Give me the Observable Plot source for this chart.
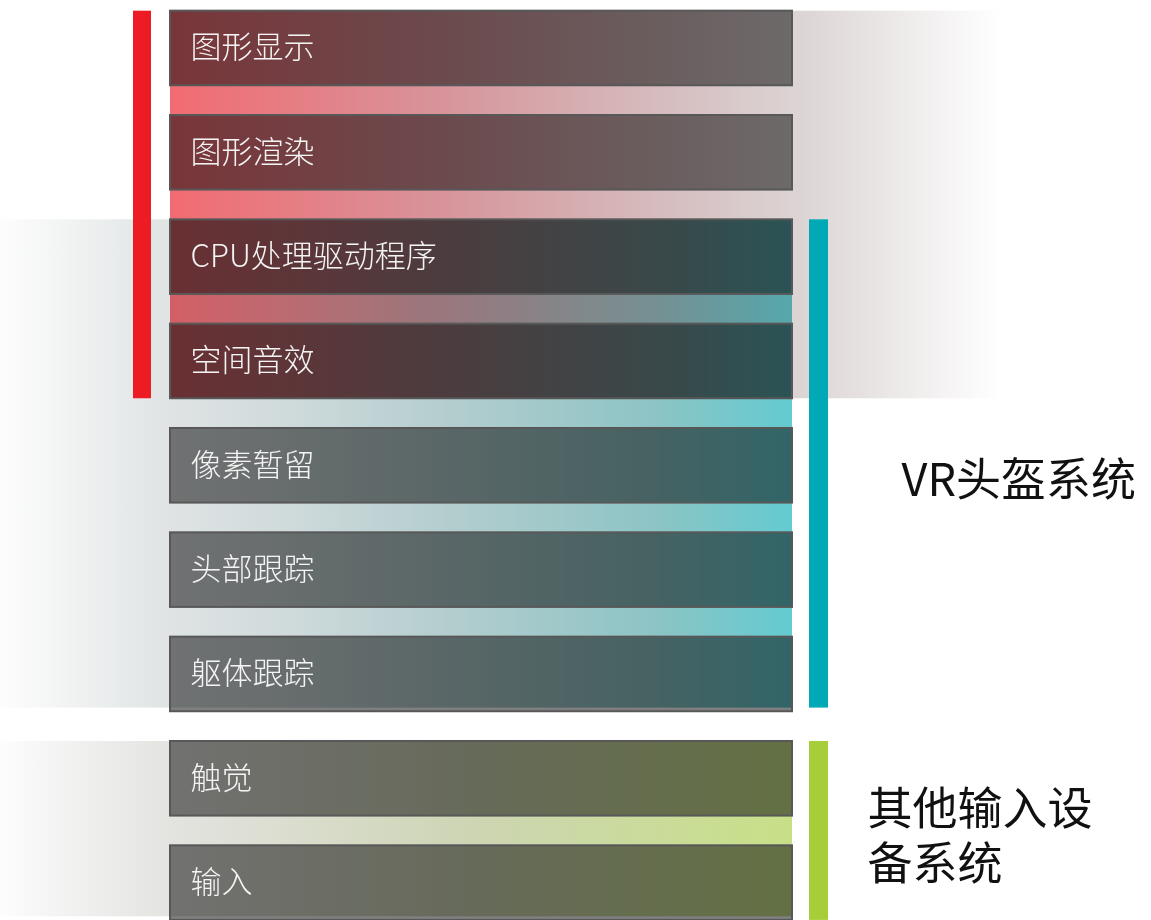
<!DOCTYPE html>
<html>
<head>
<meta charset="utf-8">
<script src="https://cdn.jsdelivr.net/npm/d3@7"></script>
<script src="https://cdn.jsdelivr.net/npm/@observablehq/plot@0.6"></script>
<style>
  html, body { margin: 0; padding: 0; background: #ffffff; }
  #chart svg { display: block; }
</style>
</head>
<body>
<div id="chart"></div>
<script>
// ---------- DATA ----------
const components = ["图形显示", "图形渲染", "CPU处理驱动程序", "空间音效", "像素暂留", "头部跟踪", "躯体跟踪", "触觉", "输入"];
const groupNames = ["图形子系统", "VR头盔系统", "其他输入设备系统"];
const groupFirstRow = [0, 2, 7];
const groupLastRow = [3, 6, 8];
const groupLabels = ["", "VR头盔系统", "其他输入设\n备系统"];

// ---------- STYLE / LAYOUT ----------
const W = 1151, H = 920;
const rowPx = 104.33, topPx = 10.67;
const boxH = 0.715;              // box height in row units
const boxX = [170, 792];
const barX = { left: [133, 151], right: [809, 828] };
const styles = [
  { id: "gRed", bar: "#ed1c24", side: "left", panelX: [170, 1000], blend: true, labelX: 0, labelDy: 0,
    stops: [[0, "#f26b72"], [0.325, "#d7949a"], [0.59, "#d5bcbe"], [0.77, "#ddd6d6"], [1, "#ffffff"]] },
  { id: "gTeal", bar: "#00a9b5", side: "right", panelX: [0, 792], blend: false, labelX: 901, labelDy: 13,
    stops: [[0, "#fdfdfd"], [0.06, "#f5f6f6"], [0.215, "#dfe3e4"], [0.35, "#d1dbdc"], [0.57, "#b3cdce"], [0.83, "#8cc4c5"], [1, "#63cbd0"]] },
  { id: "gGreen", bar: "#a6ce39", side: "right", panelX: [0, 792], blend: false, labelX: 867, labelDy: 4,
    stops: [[0, "#fdfdfd"], [0.06, "#f5f5f5"], [0.215, "#e3e3e0"], [0.6, "#cdd5b3"], [1, "#c7e087"]] }
];

const groups = groupNames.map((name, i) => ({
  name, i, first: groupFirstRow[i], last: groupLastRow[i], label: groupLabels[i], ...styles[i]
}));
const rows = components.map((name, i) => ({ name, row: i }));

// gradient definitions (function mark)
const defsMark = () => {
  const defs = d3.create("svg:defs");
  for (const g of groups) {
    const lg = defs.append("linearGradient").attr("id", g.id)
      .attr("x1", 0).attr("x2", 1).attr("y1", 0).attr("y2", 0);
    for (const [o, c] of g.stops) lg.append("stop").attr("offset", o).attr("stop-color", c);
  }
  return defs.node();
};

const panelMark = (g) => Plot.rect([g], {
  x1: d => d.panelX[0], x2: d => d.panelX[1],
  y1: d => d.first, y2: d => d.last + boxH - (d.blend ? 0 : 0.035),
  fill: `url(#${g.id})`,
  mixBlendMode: g.blend ? "multiply" : "normal"
});

const chart = Plot.plot({
  width: W, height: H,
  margin: 0,
  x: { domain: [0, W], range: [0, W], axis: null },
  y: { domain: [0, 9], range: [topPx, topPx + 9 * rowPx], axis: null },
  style: { fontFamily: "'Noto Sans CJK SC', 'Noto Sans', sans-serif", background: "#ffffff" },
  marks: [
    defsMark,
    ...groups.filter(g => !g.blend).map(panelMark),
    ...groups.filter(g => g.blend).map(panelMark),
    // component boxes
    Plot.rect(rows, {
      x1: () => boxX[0], x2: () => boxX[1],
      y1: d => d.row, y2: d => d.row + boxH,
      fill: "#000000", fillOpacity: 0.5,
      stroke: "#585858", strokeWidth: 2
    }),
    Plot.text(rows, {
      x: () => boxX[0] + 20, y: d => d.row + boxH / 2,
      text: "name", textAnchor: "start", fill: "#f4f4f4",
      fontSize: 31, fontWeight: 300
    }),
    // group bars
    Plot.rect(groups, {
      x1: d => barX[d.side][0], x2: d => barX[d.side][1],
      y1: d => d.first, y2: d => d.last + boxH - (d.side === "right" && d.last < 8 ? 0.035 : 0),
      fill: d => d.bar
    }),
    // group labels
    Plot.text(groups.filter(g => g.label), {
      x: d => d.labelX,
      y: d => (d.first + d.last + boxH) / 2 + d.labelDy / rowPx,
      text: "label", textAnchor: "start", lineHeight: 1.22,
      fill: "#111111", fontSize: 45
    })
  ]
});
document.getElementById("chart").appendChild(chart);
</script>
</body>
</html>
